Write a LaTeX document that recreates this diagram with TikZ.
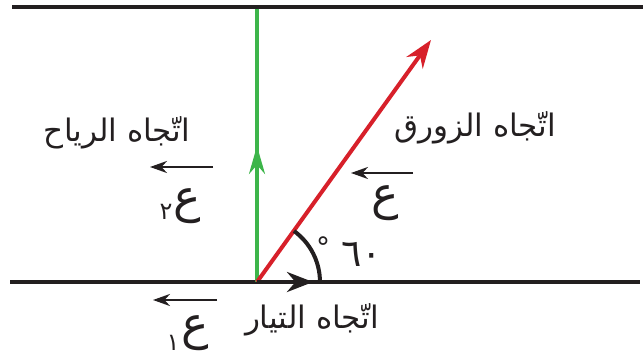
\documentclass[tikz,border=0pt]{standalone}
\usepackage{fontspec}
\newfontfamily\arabicfont[Script=Arabic]{DejaVu Sans}
\TeXXeTstate=1
\usetikzlibrary{arrows.meta}
\definecolor{ink}{HTML}{231F20}
\definecolor{grn}{HTML}{3DB54A}
\definecolor{rd}{HTML}{D7202A}
\begin{document}
\begin{tikzpicture}[x=1pt,y=-1pt,
  lab/.style={font=\arabicfont\fontsize{31}{36}\selectfont, inner sep=0pt, text=ink},
  ain/.style={font=\arabicfont\fontsize{46}{50}\selectfont, inner sep=0pt, text=ink},
  idx/.style={font=\arabicfont\fontsize{24}{28}\selectfont, inner sep=0pt, text=ink},
  bank/.style={line width=4.5pt, draw=ink},
  vec/.style={line width=2.5pt, draw=ink, -{Stealth[length=17pt,width=12pt]}},
]
\useasboundingbox (0,0) rectangle (643,356);
% banks
\coordinate (tl) at (12,7);
\coordinate (tr) at (643,7);
\coordinate (bl) at (10,282);
\coordinate (br) at (640,282);
\draw[bank] (tl) -- (tr);
\draw[bank] (bl) -- (br);
% origin and vectors
\coordinate (o) at (257,282);
\coordinate (gtop) at (257,9);
\coordinate (gmid) at (257,146);
\coordinate (rtip) at (431,40);
\coordinate (ctip) at (313,282);
\coordinate (a1) at (294,231);
\draw[grn, line width=3.5pt] (o) -- (gtop);
\draw[grn, line width=3.5pt, -{Stealth[length=28pt,width=16pt]}] (o) -- (gmid);
\draw[rd, line width=4pt, -{Stealth[length=28pt,width=20pt]}] (o) -- (rtip);
\draw[ink, line width=4pt, -{Stealth[length=26pt,width=20pt]}] (o) -- (ctip);
\draw[ink, line width=4pt] (a1) arc[start angle=54, end angle=0, radius=63pt];
% angle label
\node[font=\arabicfont\fontsize{28}{30}\selectfont, inner sep=0pt, text=ink] (deg) at (323,247) {°};
\node[font=\arabicfont\fontsize{38}{42}\selectfont, inner sep=0pt, text=ink] (ang) at (362,254) {\beginR ٦٠\endR};
% labels
\node[lab] (wind) at (117,133) {\beginR اتّجاه الرياح\endR};
\node[lab] (boat) at (475,128) {\beginR اتّجاه الزورق\endR};
\node[lab] (curr) at (312,320) {\beginR اتّجاه التيار\endR};
% small vectors
\coordinate (w1) at (213,167); \coordinate (w2) at (150,167);
\coordinate (b1) at (413,173); \coordinate (b2) at (351,173);
\coordinate (c1) at (217,300); \coordinate (c2) at (153,300);
\draw[vec] (w1) -- (w2);
\draw[vec] (b1) -- (b2);
\draw[vec] (c1) -- (c2);
\node[ain] (ain2) at (187,206) {ع};
\node[idx] (sub2) at (166,212) {٢};
\node[ain] (ain0) at (385,203) {ع};
\node[ain] (ain1) at (195,333) {ع};
\node[idx] (sub1) at (173,343) {١};
\end{tikzpicture}
\end{document}
